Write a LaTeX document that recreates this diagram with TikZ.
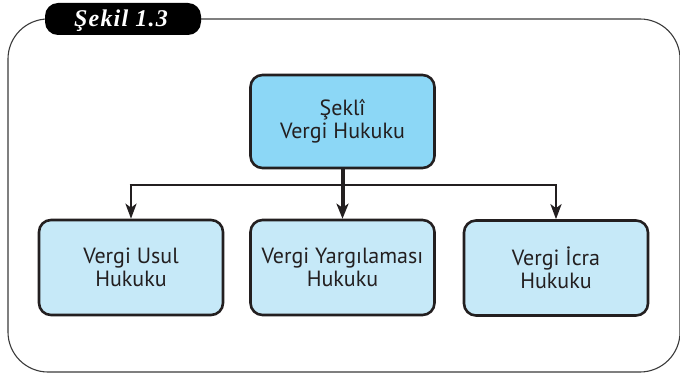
\documentclass[tikz,border=0pt]{standalone}
\usepackage{fontspec}
\setmainfont{PT Sans}
\newfontfamily\tagfont[LetterSpace=5]{Liberation Serif}
\usetikzlibrary{arrows.meta}
\definecolor{ink}{HTML}{231F20}
\definecolor{topfill}{HTML}{8CD7F6}
\definecolor{botfill}{HTML}{C6E9F8}
\definecolor{framec}{HTML}{3A3A3A}
\tikzset{
  box/.style={draw=ink, line width=2.6pt, rounded corners=12pt, minimum width=184pt,
    minimum height=93pt, align=center, font=\fontsize{22}{23}\selectfont, text=ink, inner sep=0pt},
  topbox/.style={box, fill=topfill},
  botbox/.style={box, fill=botfill},
  busline/.style={draw=ink, line width=1.6pt},
  drop/.style={draw=ink, line width=2.6pt, -{Stealth[length=15pt,width=11pt,inset=4pt]}},
  maindrop/.style={draw=ink, line width=4pt, -{Stealth[length=15pt,width=12pt,inset=4pt]}},
}
\begin{document}
\begin{tikzpicture}[x=1pt,y=-1pt]
\useasboundingbox (0,0) rectangle (680,374);
% outer frame
\draw[framec, line width=1.1pt, rounded corners=40pt] (8,19) rectangle (680,372);
% tag
\node[fill=black, rounded corners=13pt, minimum width=156pt, minimum height=32pt, inner sep=0pt] (tag) at (123,19) {};
\node[text=white, font=\tagfont\fontsize{24}{26}\selectfont\bfseries\itshape, anchor=base] (tagtext) at (121,27) {Şekil 1.3};
% boxes
\node[topbox] (top) at (342.5,121.5) {Şeklî\\Vergi Hukuku};
\node[botbox, minimum height=95pt] (left) at (131,267.5) {Vergi Usul\\Hukuku};
\node[botbox, minimum height=95pt] (mid) at (342.5,267.5) {Vergi Yargılaması\\Hukuku};
\node[botbox, minimum height=95pt] (right) at (556,268) {Vergi İcra\\Hukuku};
% connectors
\coordinate (bus) at (342.5,185);
\draw[busline] ([xshift=-1.3pt]left.north |- bus) -- ([xshift=1.3pt]right.north |- bus);
\draw[drop] (left.north |- bus) -- (left.north);
\draw[drop] (right.north |- bus) -- (right.north);
\draw[maindrop] (top.south) -- (mid.north);
\end{tikzpicture}
\end{document}
